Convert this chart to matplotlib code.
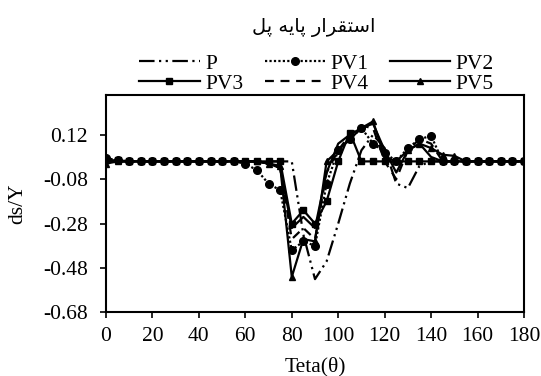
import matplotlib
matplotlib.use("Agg")
import matplotlib.pyplot as plt

theta = [0, 5, 10, 15, 20, 25, 30, 35, 40, 45, 50, 55, 60, 65, 70, 75, 80, 85, 90,
         95, 100, 105, 110, 115, 120, 125, 130, 135, 140, 145, 150, 155, 160, 165,
         170, 175, 180]

P = [0.0, 0.0, 0.0, 0.0, 0.0, 0.0, 0.0, 0.0, 0.0, 0.0, 0.0, 0.0, 0.0, 0.0, 0.0, 0.0,
     0.0, -0.33, -0.53, -0.45, -0.28, -0.10, 0.05, 0.12, 0.06, -0.10, -0.12, -0.02,
     0.0, 0.0, 0.0, 0.0, 0.0, 0.0, 0.0, 0.0, 0.0]
PV1 = [0.015, 0.005, 0.0, 0.0, 0.0, 0.0, 0.0, 0.0, 0.0, 0.0, 0.0, 0.0, -0.01, -0.04,
       -0.10, -0.13, -0.40, -0.36, -0.38, -0.10, 0.05, 0.10, 0.15, 0.08, 0.04, 0.0,
       0.06, 0.10, 0.115, 0.0, 0.0, 0.0, 0.0, 0.0, 0.0, 0.0, 0.0]
PV2 = [0.005, 0.0, 0.0, 0.0, 0.0, 0.0, 0.0, 0.0, 0.0, 0.0, 0.0, 0.0, 0.0, 0.0, -0.01,
       -0.03, -0.30, -0.25, -0.30, -0.05, 0.08, 0.12, 0.15, 0.17, 0.05, -0.05, 0.05,
       0.08, 0.02, 0.0, 0.0, 0.0, 0.0, 0.0, 0.0, 0.0, 0.0]
PV3 = [0.005, 0.005, 0.0, 0.0, 0.0, 0.0, 0.0, 0.0, 0.0, 0.0, 0.0, 0.0, 0.0, 0.0, 0.0,
       0.0, -0.28, -0.22, -0.28, -0.18, 0.0, 0.13, 0.0, 0.0, 0.0, 0.0, 0.0, 0.0, 0.0,
       0.0, 0.0, 0.0, 0.0, 0.0, 0.0, 0.0, 0.0]
PV4 = [0.0, 0.0, 0.0, 0.0, 0.0, 0.0, 0.0, 0.0, 0.0, 0.0, 0.0, 0.0, 0.0, 0.0, -0.01,
       -0.03, -0.35, -0.30, -0.35, -0.05, 0.05, 0.12, 0.16, 0.15, 0.0, -0.08, 0.05,
       0.10, 0.08, 0.0, 0.0, 0.0, 0.0, 0.0, 0.0, 0.0, 0.0]
PV5 = [-0.01, 0.0, 0.0, 0.0, 0.0, 0.0, 0.0, 0.0, 0.0, 0.0, 0.0, 0.0, 0.0, 0.0, -0.01,
       -0.02, -0.52, -0.35, -0.36, 0.0, 0.05, 0.10, 0.15, 0.18, 0.02, 0.0, 0.05, 0.08,
       0.06, 0.03, 0.025, 0.0, 0.0, 0.0, 0.0, 0.0, 0.0]

labels = ["P", "PV1", "PV2", "PV3", "PV4", "PV5"]
yticks = [-0.68, -0.48, -0.28, -0.08, 0.12]
xticks = list(range(0, 181, 20))
# Persian title "استقرار پایه پل" in shaped, visual-order presentation forms
title = "\uFEDE\uFB58 \uFEEA\uFBFE\uFE8E\uFB58 \uFEAD\uFE8D\uFEAE\uFED8\uFE98\uFEB3\uFE8D"

plt.rcParams['font.family'] = ['Liberation Serif', 'DejaVu Serif', 'DejaVu Sans']
FS = 15.5

fig = plt.figure(figsize=(5.41, 3.76), dpi=100)
ax = fig.add_axes([0.196, 0.169, 0.7725, 0.579])

k = dict(color='black', lw=1.6)
lP, = ax.plot(theta, P, linestyle=(0, (7, 2, 1, 2, 1, 2)), **k)
l1, = ax.plot(theta, PV1, linestyle=(0, (1, 1)), marker='o', ms=5.5, **k)
l2, = ax.plot(theta, PV2, linestyle='-', **k)
l3, = ax.plot(theta, PV3, linestyle='-', marker='s', ms=5, **k)
l4, = ax.plot(theta, PV4, linestyle=(0, (4, 3)), **k)
l5, = ax.plot(theta, PV5, linestyle='-', marker='^', ms=5, **k)

ax.set_xlim(0, 180)
ax.set_ylim(-0.68, 0.30)
ax.set_xticks(xticks)
ax.set_yticks(yticks)
ax.set_yticklabels([f"{v:.2f}" for v in yticks])
ax.tick_params(direction='out', length=4, width=1.2, labelsize=FS)
ax.tick_params(axis='x', pad=6.5)
ax.tick_params(axis='y', pad=9)
for s in ax.spines.values():
    s.set_linewidth(1.5)

ax.set_xlabel("Teta(\u03b8)", fontsize=FS, labelpad=8)
ax.set_ylabel("ds/Y", fontsize=FS, labelpad=11)

handles = [lP, l3, l1, l4, l2, l5]
hl = [labels[0], labels[3], labels[1], labels[4], labels[2], labels[5]]
fig.legend(handles, hl, ncol=3, loc='lower center', bbox_to_anchor=(0.585, 0.75),
           frameon=False, handlelength=2.8, handletextpad=0.25, columnspacing=1.0,
           labelspacing=0.0, fontsize=15.5, borderaxespad=0.0, borderpad=0.0)

fig.text(0.58, 0.952, title, ha='center', va='top', fontsize=14,
         family=['DejaVu Sans'])

fig.savefig("out.png", dpi=100)
